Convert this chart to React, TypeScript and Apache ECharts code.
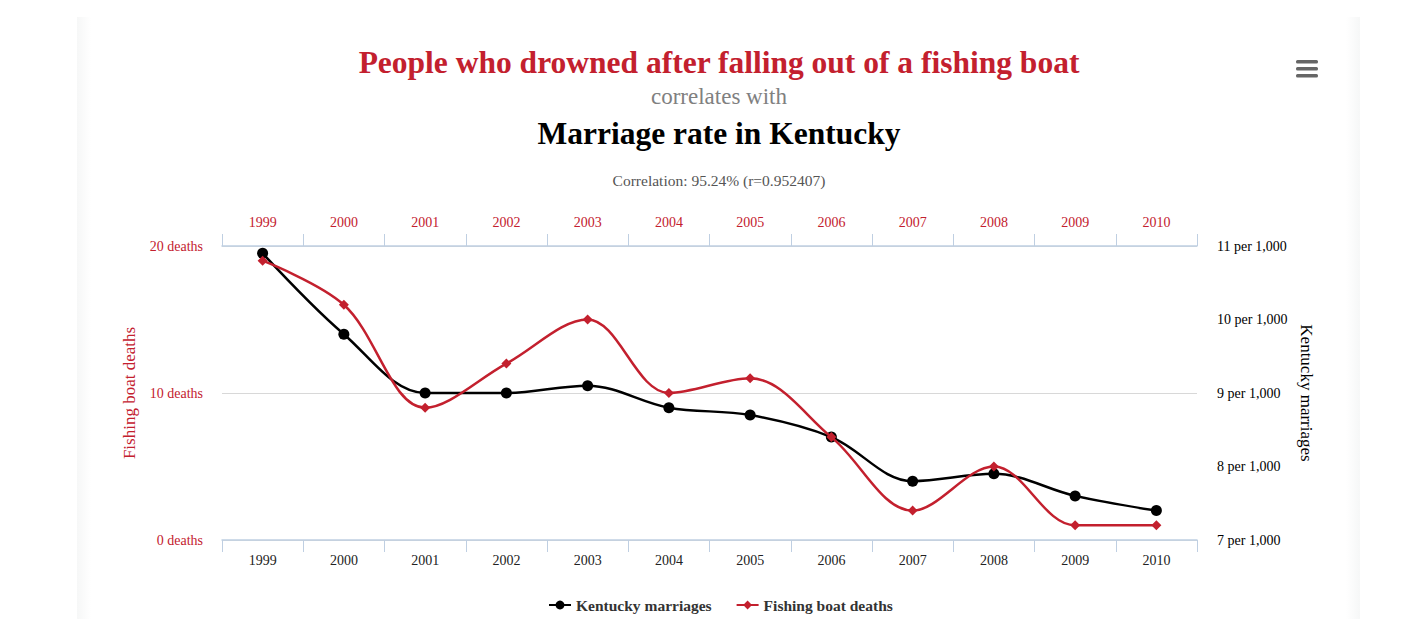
import React, { useEffect, useRef } from "react";
import * as echarts from "echarts";

const years = ["1999", "2000", "2001", "2002", "2003", "2004", "2005", "2006", "2007", "2008", "2009", "2010"];
const kentuckyMarriages = [10.9, 9.8, 9.0, 9.0, 9.1, 8.8, 8.7, 8.4, 7.8, 7.9, 7.6, 7.4];
const fishingBoatDeaths = [19, 16, 9, 12, 15, 10, 11, 7, 2, 5, 1, 1];
const deathsTicks = { min: 0, max: 20, interval: 10 };
const marriageTicks = { min: 7, max: 11, interval: 1 };

const RED = "#c3202e";
const FONT = "'Liberation Serif', 'Times New Roman', serif";
const AXIS_BLUE = "#bfcfe2";

export default function App() {
  const ref = useRef<HTMLDivElement>(null);
  useEffect(() => {
    if (!ref.current) return;
    const chart = echarts.init(ref.current, undefined, { renderer: "svg" });
    chart.setOption({
      animation: false,
      backgroundColor: "#ffffff",
      textStyle: { fontFamily: FONT },
      graphic: [
        {
          type: "rect",
          shape: { x: 77, y: 17, width: 14, height: 602 },
          style: {
            fill: new echarts.graphic.LinearGradient(0, 0, 1, 0, [
              { offset: 0, color: "#f6f7f7" },
              { offset: 1, color: "#ffffff" },
            ]),
          },
          silent: true,
          z: -10,
        },
        {
          type: "rect",
          shape: { x: 1346, y: 17, width: 14, height: 602 },
          style: {
            fill: new echarts.graphic.LinearGradient(0, 0, 1, 0, [
              { offset: 0, color: "#ffffff" },
              { offset: 1, color: "#f6f7f7" },
            ]),
          },
          silent: true,
          z: -10,
        },
        {
          type: "text",
          x: 719,
          y: 62,
          style: {
            text: "People who drowned after falling out of a fishing boat",
            fill: RED,
            font: `bold 31.5px ${FONT}`,
            align: "center",
            verticalAlign: "middle",
          },
        },
        {
          type: "text",
          x: 719,
          y: 96,
          style: {
            text: "correlates with",
            fill: "#808080",
            font: `23px ${FONT}`,
            align: "center",
            verticalAlign: "middle",
          },
        },
        {
          type: "text",
          x: 719,
          y: 133,
          style: {
            text: "Marriage rate in Kentucky",
            fill: "#000000",
            font: `bold 31.5px ${FONT}`,
            align: "center",
            verticalAlign: "middle",
          },
        },
        {
          type: "text",
          x: 719,
          y: 180,
          style: {
            text: "Correlation: 95.24% (r=0.952407)",
            fill: "#555555",
            font: `15.5px ${FONT}`,
            align: "center",
            verticalAlign: "middle",
          },
        },
        { type: "rect", shape: { x: 1296, y: 60, width: 22, height: 3.5, r: 1.5 }, style: { fill: "#666666" } },
        { type: "rect", shape: { x: 1296, y: 67, width: 22, height: 3.5, r: 1.5 }, style: { fill: "#666666" } },
        { type: "rect", shape: { x: 1296, y: 74, width: 22, height: 3.5, r: 1.5 }, style: { fill: "#666666" } },
      ],
      grid: { left: 222, right: 205, top: 246, bottom: 79 },
      legend: {
        bottom: 1,
        left: 543,
        itemGap: 24,
        itemWidth: 22,
        itemHeight: 11,
        textStyle: { fontFamily: FONT, fontSize: 15.5, fontWeight: "bold", color: "#333333" },
        data: ["Kentucky marriages", "Fishing boat deaths"],
      },
      xAxis: [
        {
          type: "category",
          data: years,
          position: "bottom",
          axisLine: { show: true, lineStyle: { color: AXIS_BLUE, width: 1.5 } },
          axisTick: { show: true, interval: 0, length: 12, lineStyle: { color: AXIS_BLUE, width: 1 } },
          axisLabel: { color: "#222222", fontSize: 14, fontFamily: FONT, margin: 13 },
        },
        {
          type: "category",
          data: years,
          position: "top",
          axisLine: { show: true, lineStyle: { color: AXIS_BLUE, width: 1.5 } },
          axisTick: { show: true, interval: 0, length: 12, lineStyle: { color: AXIS_BLUE, width: 1 } },
          axisLabel: { color: RED, fontSize: 14, fontFamily: FONT, margin: 17 },
        },
      ],
      yAxis: [
        {
          type: "value",
          position: "left",
          min: deathsTicks.min,
          max: deathsTicks.max,
          interval: deathsTicks.interval,
          name: "Fishing boat deaths",
          nameLocation: "middle",
          nameGap: 84,
          nameTextStyle: { color: RED, fontSize: 17, fontFamily: FONT },
          axisLine: { show: false },
          axisTick: { show: false },
          axisLabel: {
            color: RED,
            fontSize: 14,
            fontFamily: FONT,
            margin: 19,
            padding: [3, 0, 0, 0],
            formatter: (v: number) => `${v} deaths`,
          },
          splitLine: { lineStyle: { color: "#d8d8d8", width: 1 } },
        },
        {
          type: "value",
          position: "right",
          min: marriageTicks.min,
          max: marriageTicks.max,
          interval: marriageTicks.interval,
          name: "Kentucky marriages",
          nameLocation: "middle",
          nameRotate: -90,
          nameGap: 100,
          nameTextStyle: { color: "#000000", fontSize: 17, fontFamily: FONT },
          axisLine: { show: false },
          axisTick: { show: false },
          axisLabel: {
            color: "#000000",
            fontSize: 14,
            fontFamily: FONT,
            margin: 20,
            padding: [2, 0, 0, 0],
            formatter: (v: number) => `${v} per 1,000`,
          },
          splitLine: { show: false },
        },
      ],
      series: [
        {
          name: "Kentucky marriages",
          type: "line",
          xAxisIndex: 0,
          yAxisIndex: 1,
          data: kentuckyMarriages,
          smooth: 0.35,
          symbol: "circle",
          symbolSize: 11,
          lineStyle: { color: "#000000", width: 2.5 },
          itemStyle: { color: "#000000" },
          z: 2,
        },
        {
          name: "Fishing boat deaths",
          type: "line",
          xAxisIndex: 0,
          yAxisIndex: 0,
          data: fishingBoatDeaths,
          smooth: 0.35,
          symbol: "diamond",
          symbolSize: 10,
          lineStyle: { color: RED, width: 2.5 },
          itemStyle: { color: RED },
          z: 3,
        },
      ],
    });
    return () => chart.dispose();
  }, []);
  return (
    <div
      ref={ref}
      style={{ position: "absolute", left: 0, top: 0, width: 1402, height: 619, background: "#ffffff" }}
    />
  );
}
